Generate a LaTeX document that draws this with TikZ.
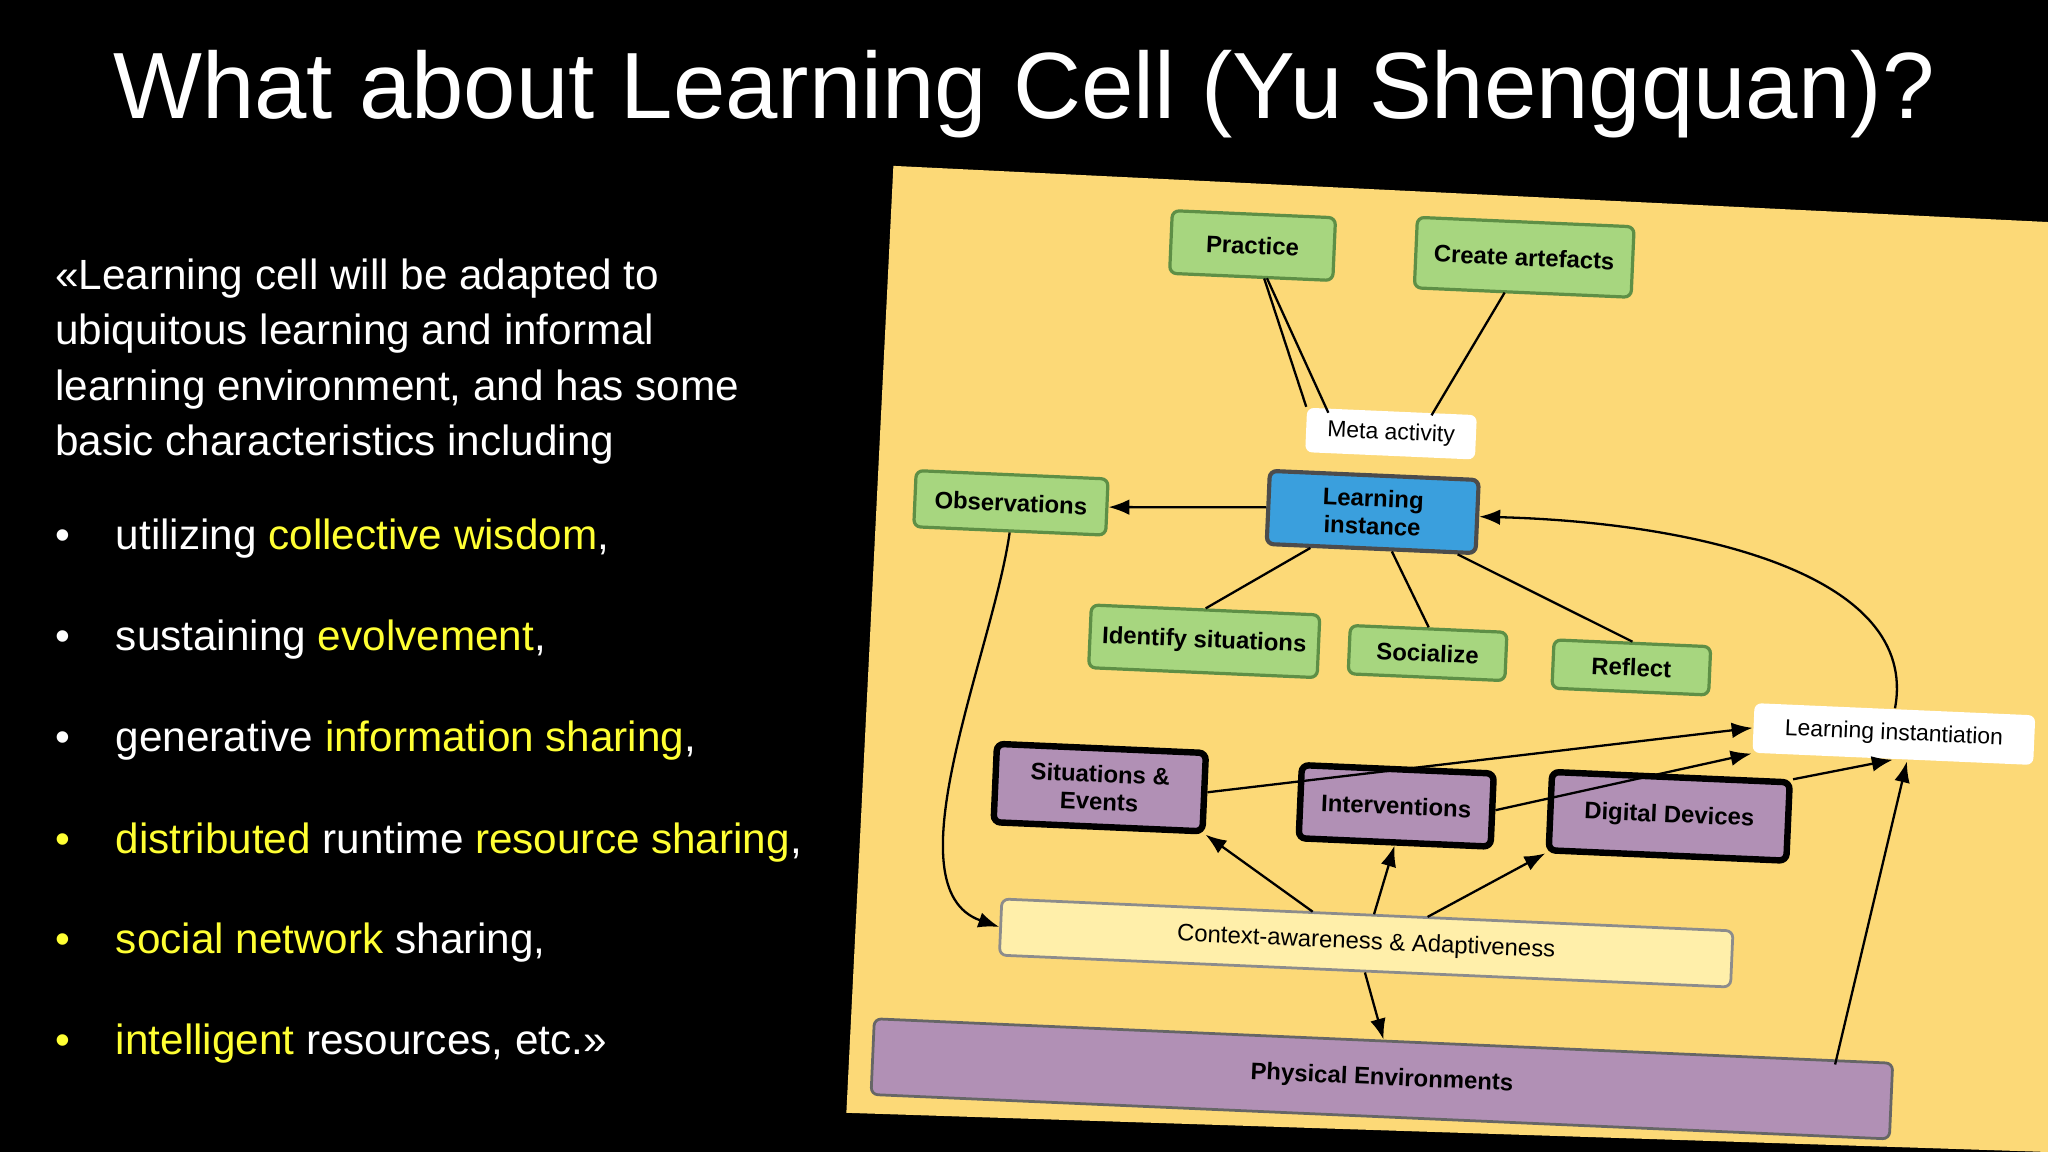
\documentclass[tikz,border=0pt]{standalone}
\usepackage{fontspec}
\setmainfont{Liberation Sans}
\usetikzlibrary{arrows.meta}
\definecolor{panel}{HTML}{FCD977}
\definecolor{gfill}{HTML}{A7D67F}
\definecolor{gline}{HTML}{5E8F46}
\definecolor{bfill}{HTML}{3A9FDD}
\definecolor{pfill}{HTML}{B190B5}
\definecolor{cfill}{HTML}{FFEFAA}
\definecolor{hl}{HTML}{FFFF33}
\tikzset{
 box/.style={rotate=-2.5,draw,rounded corners=1.5pt,inner sep=1pt,align=center,font=\fontsize{5.2}{6}\selectfont\bfseries},
 gbox/.style={box,fill=gfill,draw=gline,line width=0.7pt},
 pbox/.style={box,fill=pfill,draw=black,line width=1.4pt},
 wbox/.style={box,fill=white,draw=none,font=\fontsize{5}{6}\selectfont},
 con/.style={line width=0.5pt},
 arr/.style={con,-{Latex[length=1.6mm,width=1.2mm]}},
 bl/.style={anchor=west,text=white,font=\fontsize{9.2}{11}\selectfont}
}
\begin{document}
\begin{tikzpicture}[x=0.01cm,y=-0.01cm]
\fill[black] (0,0) rectangle (1568,882);
\useasboundingbox (0,0) rectangle (1568,882);
\node[text=white,font=\fontsize{20.5}{24}\selectfont] (title) at (784,72) {What about Learning Cell (Yu Shengquan)?};
\node[anchor=north west,text=white,align=left,font=\fontsize{9.2}{12}\selectfont] (intro) at (30,186) {«Learning cell will be adapted to\\ubiquitous learning and informal\\learning environment, and has some\\basic characteristics including};
\node[bl] (b1) at (30,412) {•\hspace{3.5mm}utilizing \textcolor{hl}{collective wisdom},};
\node[bl] (b2) at (30,490) {•\hspace{3.5mm}sustaining \textcolor{hl}{evolvement},};
\node[bl] (b3) at (30,567) {•\hspace{3.5mm}generative \textcolor{hl}{information sharing},};
\node[bl] (b4) at (30,645) {\textcolor{hl}{•}\hspace{3.5mm}\textcolor{hl}{distributed} runtime \textcolor{hl}{resource sharing},};
\node[bl] (b5) at (30,722) {\textcolor{hl}{•}\hspace{3.5mm}\textcolor{hl}{social network} sharing,};
\node[bl] (b6) at (30,799) {\textcolor{hl}{•}\hspace{3.5mm}\textcolor{hl}{intelligent} resources, etc.»};
\fill[panel] (684,127) -- (1568,170) -- (1568,882) -- (648,852) -- cycle;
\node[gbox,minimum width=1.25cm,minimum height=0.48cm] (pr) at (959,188) {Practice};
\node[gbox,minimum width=1.66cm,minimum height=0.54cm] (ca) at (1167,197) {Create artefacts};
\node[wbox,minimum width=1.3cm,minimum height=0.34cm] (ma) at (1065,332) {Meta activity};
\node[box,fill=bfill,draw=black!70,line width=0.9pt,minimum width=1.6cm,minimum height=0.56cm] (li) at (1051,392) {Learning\\instance};
\node[gbox,minimum width=1.47cm,minimum height=0.43cm] (ob) at (774,385) {Observations};
\node[gbox,minimum width=1.75cm,minimum height=0.48cm] (is) at (922,491) {Identify situations};
\node[gbox,minimum width=1.2cm,minimum height=0.37cm] (so) at (1093,500) {Socialize};
\node[gbox,minimum width=1.2cm,minimum height=0.37cm] (re) at (1249,511) {Reflect};
\node[wbox,minimum width=2.15cm,minimum height=0.38cm] (lin) at (1450,562) {Learning instantiation};
\node[pbox,minimum width=1.6cm,minimum height=0.6cm] (se) at (842,603) {Situations \&\\Events};
\node[pbox,minimum width=1.47cm,minimum height=0.56cm] (iv) at (1069,617) {Interventions};
\node[pbox,minimum width=1.82cm,minimum height=0.6cm] (dd) at (1278,625) {Digital Devices};
\node[box,fill=cfill,draw=black!45,line width=0.6pt,minimum width=5.6cm,minimum height=0.43cm,font=\fontsize{5.2}{6}\selectfont] (cx) at (1046,722) {Context-awareness \& Adaptiveness};
\node[box,fill=pfill,draw=black!60,line width=0.6pt,minimum width=7.8cm,minimum height=0.58cm] (pe) at (1058,826) {Physical Environments};
\draw[con] (pr.south) ++(10,0) -- (ma.north west) ++(18,0);
\draw[con] (970,213) -- (1017,316);
\draw[con] (1152,224) -- (1096,318);
\draw[arr] (li.west) -- (ob.east);
\draw[con] (li) -- (is.north);
\draw[con] (li) -- (so.north);
\draw[con] (li) -- (re.north);
\draw[arr] (ob.south) .. controls (760,500) and (680,680) .. (cx.west);
\draw[arr] (lin.north) .. controls (1470,440) and (1300,400) .. (li.east);
\draw[arr] (se.east) -- (lin.west);
\draw[arr] (iv.east) -- (lin.south west);
\draw[arr] (dd.north east) -- (lin.south);
\draw[arr] (1005,698) -- (se.south east);
\draw[arr] (1052,700) -- (iv.south);
\draw[arr] (1093,702) -- (dd.south west);
\draw[arr] (cx.south) -- (pe.north);
\draw[arr] (1405,815) -- (1460,583);
\end{tikzpicture}
\end{document}
